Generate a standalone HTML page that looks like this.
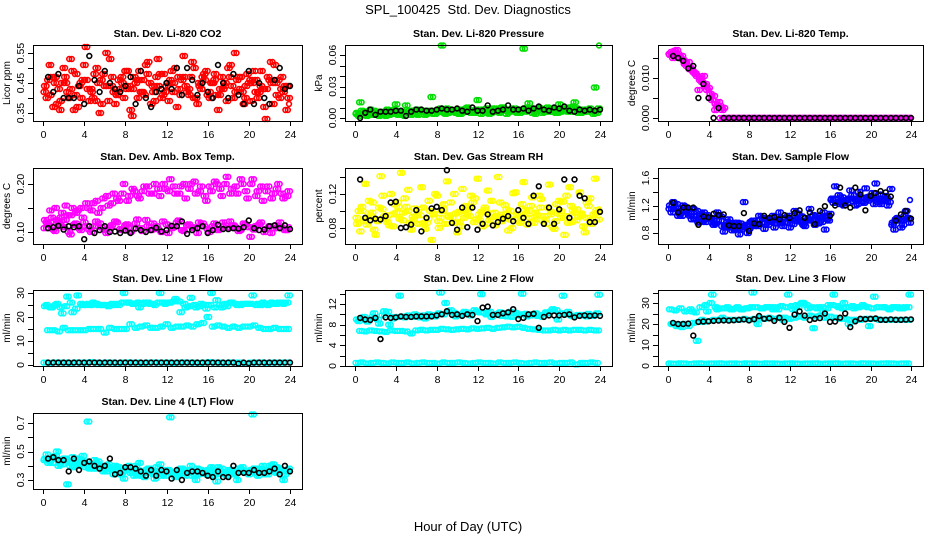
<!DOCTYPE html>
<html><head><meta charset="utf-8">
<style>
html,body{margin:0;padding:0;background:#fff;}
svg{display:block;font-family:"Liberation Sans",sans-serif;}
</style></head>
<body>
<svg id="chart" width="936" height="540" viewBox="0 0 936 540">
<rect width="936" height="540" fill="#fff"/>
<text x="468" y="14" text-anchor="middle" font-size="13">SPL_100425&#160; Std. Dev. Diagnostics</text>
<text x="468" y="531" text-anchor="middle" font-size="13">Hour of Day (UTC)</text>
</svg>
<script>
// ---- data ----
const xTicks = [0,4,8,12,16,20,24];
const co2A=[0.44,0.41,0.47,0.39,0.45,0.43,0.48,0.40,0.46,0.42,0.50,0.38,0.44,0.47,0.41,0.45,0.49,0.43,0.40,0.46,0.52,0.42,0.44,0.48,0.39,0.45,0.43,0.47,0.41,0.50,0.44,0.46,0.40,0.48,0.43,0.45,0.51,0.42,0.47,0.44,0.39,0.46,0.49,0.43,0.45,0.41,0.47,0.44];
const co2B=[0.40,0.47,0.38,0.45,0.42,0.49,0.37,0.46,0.43,0.40,0.45,0.48,0.39,0.42,0.46,0.40,0.44,0.47,0.49,0.41,0.45,0.39,0.48,0.42,0.46,0.50,0.41,0.44,0.47,0.40,0.43,0.49,0.45,0.41,0.47,0.39,0.44,0.46,0.42,0.48,0.45,0.40,0.43,0.47,0.38,0.46,0.42,0.40];
const co2C=[0.46,0.37,0.43,0.50,0.40,0.36,0.44,0.51,0.39,0.48,0.35,0.44,0.53,0.38,0.43,0.49,0.36,0.45,0.42,0.51,0.38,0.47,0.40,0.44,0.49,0.37,0.46,0.42,0.52,0.38,0.47,0.41,0.45,0.36,0.43,0.50,0.40,0.47,0.38,0.45,0.49,0.42,0.37,0.46,0.51,0.40,0.44,0.38];
const co2D=[0.42,0.51,0.45,0.36,0.47,0.53,0.41,0.45,0.57,0.43,0.39,0.46,0.55,0.44,0.41,0.47,0.43,0.34,0.46,0.42,0.48,0.44,0.53,0.41,0.45,0.42,0.47,0.54,0.43,0.40,0.45,0.48,0.42,0.46,0.41,0.44,0.47,0.55,0.43,0.40,0.46,0.42,0.44,0.33,0.52,0.45,0.43,0.36];
const co2K=[0.47,0.42,0.48,0.40,0.40,0.40,0.44,0.38,0.54,0.46,0.42,0.49,0.45,0.43,0.42,0.44,0.47,0.38,0.49,0.40,0.37,0.42,0.43,0.45,0.43,0.50,0.41,0.50,0.46,0.41,0.45,0.42,0.40,0.51,0.45,0.40,0.48,0.41,0.38,0.49,0.38,0.45,0.40,0.38,0.46,0.50,0.43,0.44];

const prA=[0.005,0.004,0.006,0.003,0.005,0.004,0.006,0.005,0.003,0.006,0.005,0.007,0.004,0.006,0.005,0.007,0.006,0.005,0.007,0.006,0.008,0.006,0.007,0.005,0.008,0.006,0.007,0.009,0.006,0.008,0.007,0.006,0.008,0.007,0.009,0.006,0.008,0.007,0.009,0.008,0.006,0.008,0.007,0.009,0.006,0.008,0.007,0.005];
const prB=[0.002,0.006,0.003,0.007,0.002,0.006,0.003,0.008,0.004,0.002,0.007,0.004,0.008,0.003,0.007,0.004,0.009,0.004,0.008,0.005,0.004,0.009,0.005,0.008,0.004,0.009,0.005,0.006,0.010,0.004,0.009,0.005,0.007,0.010,0.005,0.008,0.005,0.010,0.006,0.005,0.009,0.006,0.011,0.005,0.008,0.006,0.004,0.009];
const prC=[0.015,0.003,0.008,0.005,0.004,0.002,0.007,0.013,0.005,0.012,0.003,0.008,0.006,0.004,0.020,0.007,0.069,0.009,0.006,0.008,0.007,0.010,0.006,0.017,0.008,0.005,0.009,0.007,0.010,0.006,0.008,0.007,0.066,0.014,0.007,0.010,0.008,0.006,0.009,0.013,0.007,0.010,0.015,0.008,0.006,0.009,0.029,0.069];
const prD=[0.004,0.007,0.002,0.005,0.006,0.003,0.008,0.004,0.006,0.003,0.005,0.006,0.003,0.007,0.005,0.004,0.006,0.008,0.005,0.007,0.004,0.006,0.008,0.005,0.007,0.006,0.004,0.008,0.005,0.007,0.006,0.009,0.005,0.006,0.008,0.004,0.007,0.006,0.008,0.005,0.007,0.009,0.006,0.007,0.005,0.008,0.006,0.007];
const prK=[0.000,0.005,0.008,0.003,0.006,0.006,0.006,0.007,0.007,0.002,0.006,0.008,0.008,0.007,0.007,0.008,0.009,0.008,0.008,0.009,0.007,0.006,0.010,0.007,0.007,0.012,0.006,0.007,0.008,0.012,0.008,0.008,0.009,0.007,0.009,0.011,0.008,0.007,0.010,0.009,0.011,0.007,0.006,0.008,0.007,0.008,0.007,0.008];

const tpA=[0.0158,0.0162,0.0150,0.0138,0.0125,0.0110,0.0100,0.0085,0.0060,0.0035,0,0,0,0,0,0,0,0,0,0,0,0,0,0,0,0,0,0,0,0,0,0,0,0,0,0,0,0,0,0,0,0,0,0,0,0,0,0];
const tpB=[0.0165,0.0170,0.0155,0.0130,0.0120,0.0105,0.0090,0.0070,0.0045,0.0030,0.0020,0,0,0,0,0,0,0,0,0,0,0,0,0,0,0,0,0,0,0,0,0,0,0,0,0,0,0,0,0,0,0,0,0,0,0,0,0];
const tpC=[0.0150,0.0160,0.0145,0.0140,0.0115,0.0070,0.0105,0.0075,0.0055,0.0040,0.0025,0,0,0,0,0,0,0,0,0,0,0,0,0,0,0,0,0,0,0,0,0,0,0,0,0,0,0,0,0,0,0,0,0,0,0,0,0];
const tpD=[0.0160,0.0168,0.0152,0.0135,0.0122,0.0112,0.0095,0.0080,0.0050,0.0020,0.0030,0,0,0,0,0,0,0,0,0,0,0,0,0,0,0,0,0,0,0,0,0,0,0,0,0,0,0,0,0,0,0,0,0,0,0,0,0];
const tpK=[0.0155,0.0150,0.0143,0.0124,0.0130,0.0050,0.0085,0.0050,0.0000,0.0025,0,0,0,0,0,0,0,0,0,0,0,0,0,0,0,0,0,0,0,0,0,0,0,0,0,0,0,0,0,0,0,0,0,0,0,0,0,0];

const abA=[0.125,0.145,0.150,0.130,0.155,0.135,0.140,0.150,0.160,0.145,0.165,0.150,0.175,0.160,0.170,0.180,0.165,0.190,0.175,0.185,0.195,0.180,0.190,0.200,0.185,0.195,0.180,0.200,0.190,0.205,0.185,0.175,0.195,0.205,0.190,0.200,0.180,0.195,0.210,0.185,0.200,0.175,0.195,0.185,0.170,0.190,0.180,0.175];
const abB=[0.120,0.130,0.125,0.140,0.135,0.150,0.145,0.130,0.150,0.160,0.140,0.170,0.155,0.180,0.165,0.200,0.175,0.185,0.170,0.195,0.180,0.200,0.175,0.190,0.210,0.180,0.195,0.170,0.200,0.180,0.195,0.165,0.185,0.200,0.175,0.215,0.190,0.180,0.200,0.170,0.210,0.185,0.165,0.195,0.180,0.200,0.170,0.185];
const abC=[0.115,0.105,0.120,0.110,0.100,0.115,0.108,0.120,0.105,0.112,0.118,0.104,0.110,0.122,0.106,0.114,0.100,0.118,0.108,0.125,0.104,0.112,0.100,0.116,0.108,0.120,0.104,0.114,0.110,0.098,0.118,0.106,0.112,0.104,0.120,0.108,0.114,0.102,0.118,0.110,0.105,0.116,0.100,0.112,0.108,0.120,0.104,0.110];
const abD=[0.108,0.120,0.102,0.116,0.125,0.095,0.118,0.104,0.112,0.100,0.122,0.110,0.098,0.114,0.120,0.104,0.116,0.108,0.126,0.102,0.112,0.118,0.106,0.122,0.098,0.110,0.124,0.102,0.116,0.108,0.120,0.112,0.100,0.118,0.106,0.114,0.122,0.110,0.104,0.116,0.090,0.112,0.120,0.106,0.098,0.114,0.110,0.104];
const abK=[0.108,0.110,0.113,0.105,0.112,0.110,0.112,0.085,0.112,0.098,0.104,0.112,0.100,0.101,0.098,0.103,0.098,0.107,0.104,0.100,0.104,0.109,0.101,0.104,0.113,0.112,0.122,0.096,0.104,0.108,0.112,0.098,0.104,0.115,0.106,0.106,0.108,0.107,0.110,0.124,0.108,0.104,0.105,0.112,0.114,0.108,0.114,0.106];

const rhA=[0.085,0.100,0.092,0.110,0.088,0.118,0.095,0.082,0.105,0.098,0.125,0.090,0.102,0.086,0.112,0.096,0.080,0.108,0.093,0.120,0.087,0.100,0.094,0.115,0.089,0.104,0.097,0.083,0.110,0.092,0.100,0.122,0.088,0.096,0.106,0.090,0.114,0.085,0.099,0.108,0.092,0.118,0.087,0.102,0.095,0.110,0.090,0.098];
const rhB=[0.100,0.088,0.112,0.078,0.104,0.094,0.083,0.108,0.091,0.115,0.086,0.103,0.095,0.079,0.100,0.120,0.092,0.085,0.110,0.097,0.082,0.106,0.118,0.090,0.099,0.085,0.112,0.094,0.088,0.102,0.080,0.096,0.108,0.084,0.116,0.095,0.089,0.104,0.081,0.097,0.111,0.086,0.100,0.093,0.082,0.106,0.096,0.090];
const rhC=[0.076,0.132,0.095,0.072,0.141,0.090,0.120,0.098,0.145,0.105,0.078,0.095,0.128,0.086,0.066,0.118,0.100,0.135,0.092,0.075,0.126,0.098,0.110,0.138,0.082,0.124,0.093,0.140,0.096,0.077,0.121,0.090,0.134,0.100,0.086,0.118,0.094,0.131,0.079,0.112,0.072,0.128,0.098,0.122,0.075,0.115,0.138,0.102];
const rhD=[0.092,0.105,0.084,0.098,0.090,0.102,0.087,0.096,0.110,0.089,0.100,0.093,0.085,0.104,0.091,0.097,0.088,0.102,0.095,0.086,0.099,0.092,0.105,0.087,0.096,0.101,0.089,0.098,0.093,0.107,0.090,0.095,0.086,0.101,0.092,0.098,0.104,0.090,0.096,0.088,0.100,0.094,0.106,0.089,0.097,0.092,0.085,0.101];
const rhK=[0.137,0.092,0.089,0.091,0.090,0.094,0.110,0.111,0.080,0.081,0.084,0.101,0.076,0.092,0.103,0.105,0.101,0.148,0.086,0.078,0.104,0.081,0.104,0.078,0.085,0.096,0.083,0.087,0.091,0.094,0.088,0.101,0.092,0.085,0.118,0.129,0.085,0.104,0.085,0.102,0.137,0.092,0.137,0.118,0.115,0.087,0.087,0.099];

const sfA=[1.20,1.15,1.12,1.18,1.10,1.05,1.08,1.00,1.02,0.98,1.04,0.92,0.88,0.90,0.85,0.92,0.95,0.98,0.94,1.00,0.96,0.98,1.02,0.95,1.00,0.97,1.04,0.98,1.00,1.05,0.96,1.00,1.30,1.25,1.32,1.28,1.35,1.22,1.30,1.27,1.38,1.25,1.30,1.20,0.95,1.00,0.92,1.02];
const sfB=[1.10,1.22,1.05,1.15,1.00,1.12,0.98,1.06,0.95,1.10,0.90,0.96,0.84,0.95,0.88,0.80,0.98,0.90,1.02,0.92,1.05,0.94,0.90,1.05,0.93,1.08,0.92,1.00,1.06,0.94,1.10,0.98,1.24,1.35,1.20,1.30,1.26,1.40,1.24,1.33,1.22,1.36,1.28,1.25,0.85,0.98,1.05,0.95];
const sfC=[1.25,1.05,1.20,1.08,1.15,0.95,1.10,1.02,0.92,1.06,0.82,1.00,0.95,0.78,1.25,0.86,0.90,1.05,0.86,0.98,0.88,1.10,0.96,0.88,1.12,0.98,0.90,1.15,0.92,1.02,0.85,1.08,1.48,1.22,1.28,1.42,1.20,1.32,1.45,1.30,1.52,1.22,1.34,1.44,1.00,0.88,1.12,1.28];
const sfD=[1.15,1.18,1.08,1.12,1.05,1.00,1.02,0.96,1.00,0.94,0.98,0.88,0.92,0.86,0.94,0.90,0.96,0.92,1.00,0.95,0.98,1.00,0.94,1.02,0.98,1.00,0.96,1.02,0.98,1.00,1.02,1.05,1.28,1.30,1.26,1.24,1.30,1.28,1.26,1.32,1.30,1.28,1.26,1.30,0.92,1.02,0.98,1.00];
const sfK=[1.24,1.10,1.17,1.17,1.17,0.92,1.04,1.03,1.08,1.06,1.07,0.91,0.90,0.90,1.09,0.83,0.94,0.93,1.05,1.02,1.03,1.00,1.06,1.02,1.09,1.13,1.02,1.10,0.93,1.12,1.19,1.05,1.20,1.46,1.20,1.17,1.46,1.36,1.13,1.34,1.38,1.41,1.39,1.33,0.98,1.07,1.12,1.01];

const l1A=[24.5,24,25,24,24.5,26,23.5,25.5,25,25,25.5,25,25,25.5,25.5,26,26,25.5,26,25.5,26,25.5,26,26,26,26.5,26.5,25.5,24.5,25,24.5,25,25,24,25,25.5,26,25.5,25,25.5,25.5,25,25,25.5,26,25.5,26,26];
const l1B=[25,24,25.5,21.5,28.5,22,29,25,25.5,26,25,25,24.5,25,25,30,26,25.5,24,26,25.5,25,30,25.5,26,27.5,22,24,28,24,25.5,23.5,30,27,24,24.5,26,25,25.5,25.5,29,25.5,26,25,25.5,26,25.5,29];
const l1C=[14.5,14.5,14,15.5,14.5,14.5,14.5,14.5,15,15,15,13.5,15.5,15,15,15,17,15.5,16,16.5,15.5,15.5,16,17,15.5,16,16,16.5,16,17,17.5,20,16,16.5,16,15.5,16,15.5,16,16,16.5,15.5,15,15,15.5,15,15,15];
const l1D=[1,0.9,1.1,1,1,0.9,1.1,1,1,1.2,1,0.9,1.1,1,0.9,1,1.1,1,1,0.9,1,1.1,1,1,1,0.9,1,1.1,1,1,0.9,1,1.2,1,1,0.9,1.1,1,1,0.5,1,1,1.1,0.9,1,1,1,1.1];
const l1K=[1,1,1,1,1,1,1,1,1,1,1,1,1,1,1,1,1,1,1,1,1,1,1,1,1,1,1,1,1,1,1,1,1,1,1,1,1,0.6,1,0.7,1,1,1,1,1,1,1,1];

const l2A=[9.0,9.2,8.6,9.5,9.0,9.8,10.5,9.2,9.5,9.6,9.8,9.5,9.7,9.8,10.0,9.9,10.2,10.0,10.5,10.3,10.0,10.5,10.2,10.8,10.4,10.3,10.5,10.0,10.4,10.2,10.5,10.3,10.0,10.1,9.8,10.2,9.9,10.4,10.6,10.8,10.2,10.0,9.7,9.8,9.9,9.6,9.8,10.2];
const l2B=[8.7,9.5,9.0,10.2,8.2,10.6,8.0,9.5,13.6,9.4,9.6,10.0,9.4,9.2,9.8,9.6,14.2,12.2,10.8,9.6,9.9,10.4,9.8,10.5,13.9,10.0,9.5,10.0,9.7,9.6,9.5,9.8,14.0,9.6,10.0,9.7,9.5,10.2,11.0,9.0,13.6,10.5,9.6,9.9,9.8,10.1,9.7,13.8];
const l2C=[6.8,6.7,6.9,6.8,6.7,6.6,6.9,6.8,6.8,6.7,6.3,6.9,7.0,6.9,7.0,7.0,7.2,7.1,7.0,7.1,7.2,7.1,7.3,7.2,7.3,7.4,7.2,7.4,7.5,7.6,7.5,7.6,7.4,7.2,7.1,7.0,6.9,6.9,7.0,6.9,7.0,6.9,7.0,7.0,6.9,7.0,6.9,6.9];
const l2D=[0.6,0.7,0.5,0.6,0.7,0.6,0.5,0.7,0.6,0.6,0.7,0.5,0.6,0.7,0.6,0.6,0.5,0.7,0.6,0.6,0.7,0.6,0.5,0.6,0.7,0.6,0.6,0.5,0.7,0.6,0.6,0.7,0.6,0.5,0.6,0.7,0.6,0.6,0.7,0.5,0.6,0.6,0.7,0.3,0.6,0.6,0.7,0.6];
const l2K=[9.3,9.0,8.9,9.3,5.2,9.4,9.3,9.4,9.6,9.5,9.5,9.6,9.6,9.6,9.6,9.8,10.0,10.6,9.9,10.0,9.7,10.0,9.9,8.7,11.3,11.5,9.9,9.9,10.2,10.4,11.0,9.1,9.3,10.0,10.1,7.4,9.5,9.8,9.8,9.8,9.9,10.0,9.4,9.7,9.8,9.7,9.8,9.7];

const l3A=[27,26.5,27.5,26,27,25.5,28,29,30,28,27.5,27.5,27,27.5,27,27.5,28,28,27.5,28,28,28,28.5,28,28.5,29,30,29,28,27.5,28,27.5,29,28.5,27.5,28,28.5,28,29,28,27.5,28,28,27.5,28,28,27.5,28];
const l3B=[20,19,18.5,20,26,12,22,26,34,27,23,28,27,28,27,27.5,35,20,27.5,28,27,27,22,34,27,28,30,27.5,18,28,26,29,34,28,30,20,27.5,28,28.5,19,33,22,28,27,28,27.5,28,34];
const l3C=[20,19.5,20,19,20.5,21,21,21.5,22,22,22,22,22,22,22.5,22,22.5,23,22.5,23,22.5,23,23,22.5,23,23.5,23,24,23.5,24,23,23.5,23,22.5,22.5,22,22,22,22.5,22.5,22.5,22,22,22,22,22,22,22];
const l3D=[1.2,1.1,1.3,1.2,1.0,1.2,1.3,1.1,1.2,1.2,1.3,1.1,1.2,1.2,1.1,1.3,1.2,1.2,1.1,1.3,1.2,1.2,1.1,1.2,1.3,1.2,1.1,1.2,1.2,1.3,1.1,1.2,1.2,1.3,1.1,1.2,1.2,1.1,1.3,1.2,1.2,1.1,1.2,1.3,1.2,1.1,1.2,1.2];
const l3K=[20.5,20,20,20.2,14.5,21,21.2,21.3,21.5,21.6,21.7,21.6,21.8,22.0,22.2,21.7,22.3,23.8,22.5,22.7,21.5,23.0,21.0,18.2,24.5,26.0,24.0,21.9,22.5,22.8,25.0,21.0,21.2,23.0,25.0,18.5,21.3,22.5,22.3,22.5,22.6,22.0,22.0,22.2,22.0,22.0,22.1,22.2];

const l4A=[0.45,0.44,0.47,0.43,0.45,0.42,0.44,0.41,0.43,0.40,0.42,0.39,0.40,0.37,0.39,0.36,0.38,0.35,0.37,0.36,0.38,0.34,0.36,0.35,0.37,0.34,0.36,0.35,0.37,0.34,0.36,0.35,0.37,0.35,0.36,0.34,0.37,0.35,0.38,0.36,0.37,0.35,0.38,0.36,0.37,0.39,0.36,0.37];
const l4B=[0.48,0.42,0.50,0.41,0.27,0.46,0.40,0.47,0.71,0.38,0.43,0.36,0.41,0.34,0.39,0.31,0.40,0.33,0.42,0.32,0.38,0.31,0.41,0.33,0.74,0.32,0.38,0.33,0.40,0.30,0.37,0.34,0.39,0.29,0.38,0.33,0.37,0.30,0.39,0.35,0.76,0.33,0.40,0.34,0.41,0.36,0.30,0.38];
const l4C=[0.42,0.46,0.40,0.45,0.43,0.39,0.45,0.42,0.38,0.44,0.40,0.37,0.38,0.40,0.34,0.37,0.35,0.40,0.33,0.37,0.35,0.39,0.33,0.37,0.35,0.33,0.38,0.36,0.33,0.38,0.35,0.37,0.33,0.39,0.35,0.37,0.34,0.38,0.36,0.34,0.38,0.36,0.34,0.40,0.36,0.38,0.34,0.36];
const l4D=[0.44,0.43,0.45,0.41,0.44,0.40,0.42,0.43,0.39,0.41,0.38,0.40,0.36,0.38,0.37,0.35,0.37,0.36,0.34,0.36,0.35,0.37,0.35,0.34,0.36,0.35,0.34,0.37,0.35,0.36,0.34,0.36,0.35,0.37,0.34,0.35,0.36,0.34,0.37,0.35,0.36,0.38,0.35,0.37,0.36,0.35,0.37,0.36];
const l4K=[0.45,0.46,0.44,0.44,0.36,0.45,0.37,0.42,0.43,0.40,0.38,0.40,0.45,0.34,0.35,0.39,0.39,0.38,0.36,0.33,0.37,0.33,0.37,0.36,0.31,0.37,0.30,0.35,0.36,0.36,0.35,0.33,0.32,0.36,0.32,0.32,0.40,0.35,0.35,0.35,0.37,0.35,0.35,0.36,0.38,0.34,0.40,0.36];

// ---- panel config (layout + y ticks) ----
const panels = [
 {name:'co2', title:'Stan. Dev. Li-820 CO2', ylab:'Licor ppm', col:0,row:0, color:'#ff0000', series:[co2A,co2B,co2C,co2D], black:co2K,
  ya:[0.35,113], yb:[0.55,53], ticks:[0.35,0.40,0.45,0.50,0.55], labels:['0.35','0.45','0.55'], labelVals:[0.35,0.45,0.55]},
 {name:'pressure', title:'Stan. Dev. Li-820 Pressure', ylab:'kPa', col:1,row:0, color:'#00dd00', series:[prA,prB,prC,prD], black:prK,
  ya:[0,118], yb:[0.06,55], ticks:[0,0.01,0.02,0.03,0.04,0.05,0.06], labels:['0.00','0.03','0.06'], labelVals:[0,0.03,0.06]},
 {name:'temp', title:'Stan. Dev. Li-820 Temp.', ylab:'degrees C', col:2,row:0, color:'#ff00ff', series:[tpA,tpB,tpC,tpD], black:tpK,
  ya:[0,118], yb:[0.010,78], ticks:[0,0.005,0.010,0.015], labels:['0.000','0.010'], labelVals:[0,0.010]},
 {name:'amb-box-temp', title:'Stan. Dev. Amb. Box Temp.', ylab:'degrees C', col:0,row:1, color:'#ff00ff', series:[abA,abB,abC,abD], black:abK,
  ya:[0.10,232], yb:[0.20,184], ticks:[0.10,0.15,0.20], labels:['0.10','0.20'], labelVals:[0.10,0.20]},
 {name:'gas-stream-rh', title:'Stan. Dev. Gas Stream RH', ylab:'percent', col:1,row:1, color:'#ffff00', series:[rhA,rhB,rhC,rhD], black:rhK,
  ya:[0.08,228], yb:[0.12,194], ticks:[0.08,0.10,0.12,0.14], labels:['0.08','0.12'], labelVals:[0.08,0.12]},
 {name:'sample-flow', title:'Stan. Dev. Sample Flow', ylab:'ml/min', col:2,row:1, color:'#0000ff', series:[sfA,sfB,sfC,sfD], black:sfK,
  ya:[0.8,233], yb:[1.6,178], ticks:[0.8,1.0,1.2,1.4,1.6], labels:['0.8','1.2','1.6'], labelVals:[0.8,1.2,1.6]},
 {name:'line1-flow', title:'Stan. Dev. Line 1 Flow', ylab:'ml/min', col:0,row:2, color:'#00ffff', series:[l1A,l1B,l1C,l1D], black:l1K,
  ya:[0,365], yb:[30,293], ticks:[0,5,10,15,20,25,30], labels:['0','10','20','30'], labelVals:[0,10,20,30]},
 {name:'line2-flow', title:'Stan. Dev. Line 2 Flow', ylab:'ml/min', col:1,row:2, color:'#00ffff', series:[l2A,l2B,l2C,l2D], black:l2K,
  ya:[0,366], yb:[12,304], ticks:[0,2,4,6,8,10,12,14], labels:['0','4','8','12'], labelVals:[0,4,8,12]},
 {name:'line3-flow', title:'Stan. Dev. Line 3 Flow', ylab:'ml/min', col:2,row:2, color:'#00ffff', series:[l3A,l3B,l3C,l3D], black:l3K,
  ya:[0,366], yb:[30,303], ticks:[0,5,10,15,20,25,30,35], labels:['0','10','20','30'], labelVals:[0,10,20,30]},
 {name:'line4-flow', title:'Stan. Dev. Line 4 (LT) Flow', ylab:'ml/min', col:0,row:3, color:'#00ffff', series:[l4A,l4B,l4C,l4D], black:l4K,
  ya:[0.3,480], yb:[0.7,423], ticks:[0.3,0.4,0.5,0.6,0.7], labels:['0.3','0.5','0.7'], labelVals:[0.3,0.5,0.7]}
];
const colBoxes=[[33,302],[345,612],[658,923]];
const rowTops=[45,168,290,413];
const boxH=76;
const offsets=[0.1,0.25,0.4,0.05];
const passes=[0,0.25];

const NS='http://www.w3.org/2000/svg';
const svg=document.getElementById('chart');
function mk(tag,attrs,parent){const e=document.createElementNS(NS,tag);for(const k in attrs)e.setAttribute(k,attrs[k]);(parent||svg).appendChild(e);return e;}

panels.forEach(p=>{
  const [L,R]=colBoxes[p.col]; const T=rowTops[p.row]; const B=T+boxH;
  const x0=L+10, x24=R-12;
  const xs=h=>x0+(x24-x0)*h/24;
  const ys=v=>p.ya[1]+(v-p.ya[0])*(p.yb[1]-p.ya[1])/(p.yb[0]-p.ya[0]);
  const g=mk('g',{});
  
  
  const t=mk('text',{x:(L+R)/2,y:T-8,'text-anchor':'middle','font-size':'10.5','font-weight':'bold'},g);
  t.textContent=p.title;
  
  
  const pts=mk('g',{fill:'none',stroke:p.color,'stroke-width':'1.6'},g);
  
  
  passes.forEach(ps=>{
    p.series.forEach((arr,si)=>{
      arr.forEach((v,i)=>{
        const h=i*0.5+offsets[si]+ps;
        if(h>24.1) return;
        const c=mk('circle',{cx:xs(h).toFixed(1),cy:ys(v).toFixed(1),r:'2.4'},pts);
        
        
      });
    });
  });
  const bk=mk('g',{fill:'none',stroke:'#000','stroke-width':'1.6'},g);
  
  
  p.black.forEach((v,i)=>{
    const c=mk('circle',{cx:xs(i*0.5+0.5).toFixed(1),cy:ys(v).toFixed(1),r:'2.4'},bk);
    
    
  });
  const bx=mk('rect',{x:L+0.5,y:T+0.5,width:R-L,height:boxH,fill:'none',stroke:'#000','stroke-width':'1'},g);
  
  
  const xa=mk('g',{},g);
  
  
  xTicks.forEach(h=>{
    const x=Math.round(xs(h))+0.5;
    mk('line',{x1:x,x2:x,y1:B+0.5,y2:B+5,stroke:'#000'},xa);
    const tx=mk('text',{x:x,y:B+17,'text-anchor':'middle','font-size':'10.5'},xa);
    tx.textContent=String(h);
  });
  const ya=mk('g',{},g);
  
  
  p.ticks.forEach(v=>{
    const y=Math.round(ys(v))+0.5;
    if(y<T-2) return;
    mk('line',{x1:L-5,x2:L+0.5,y1:y,y2:y,stroke:'#000'},ya);
  });
  p.labels.forEach((lab,i)=>{
    const y=ys(p.labelVals[i]);
    const tx=mk('text',{x:0,y:0,'text-anchor':'middle','font-size':'10.5',transform:`translate(${L-9},${y}) rotate(-90)`},ya);
    tx.textContent=lab;
  });
  const yl=mk('text',{x:0,y:0,'text-anchor':'middle','font-size':'10',transform:`translate(${L-23},${T+boxH/2}) rotate(-90)`},g);
  yl.textContent=p.ylab;
  
  
});
</script>
</body></html>
